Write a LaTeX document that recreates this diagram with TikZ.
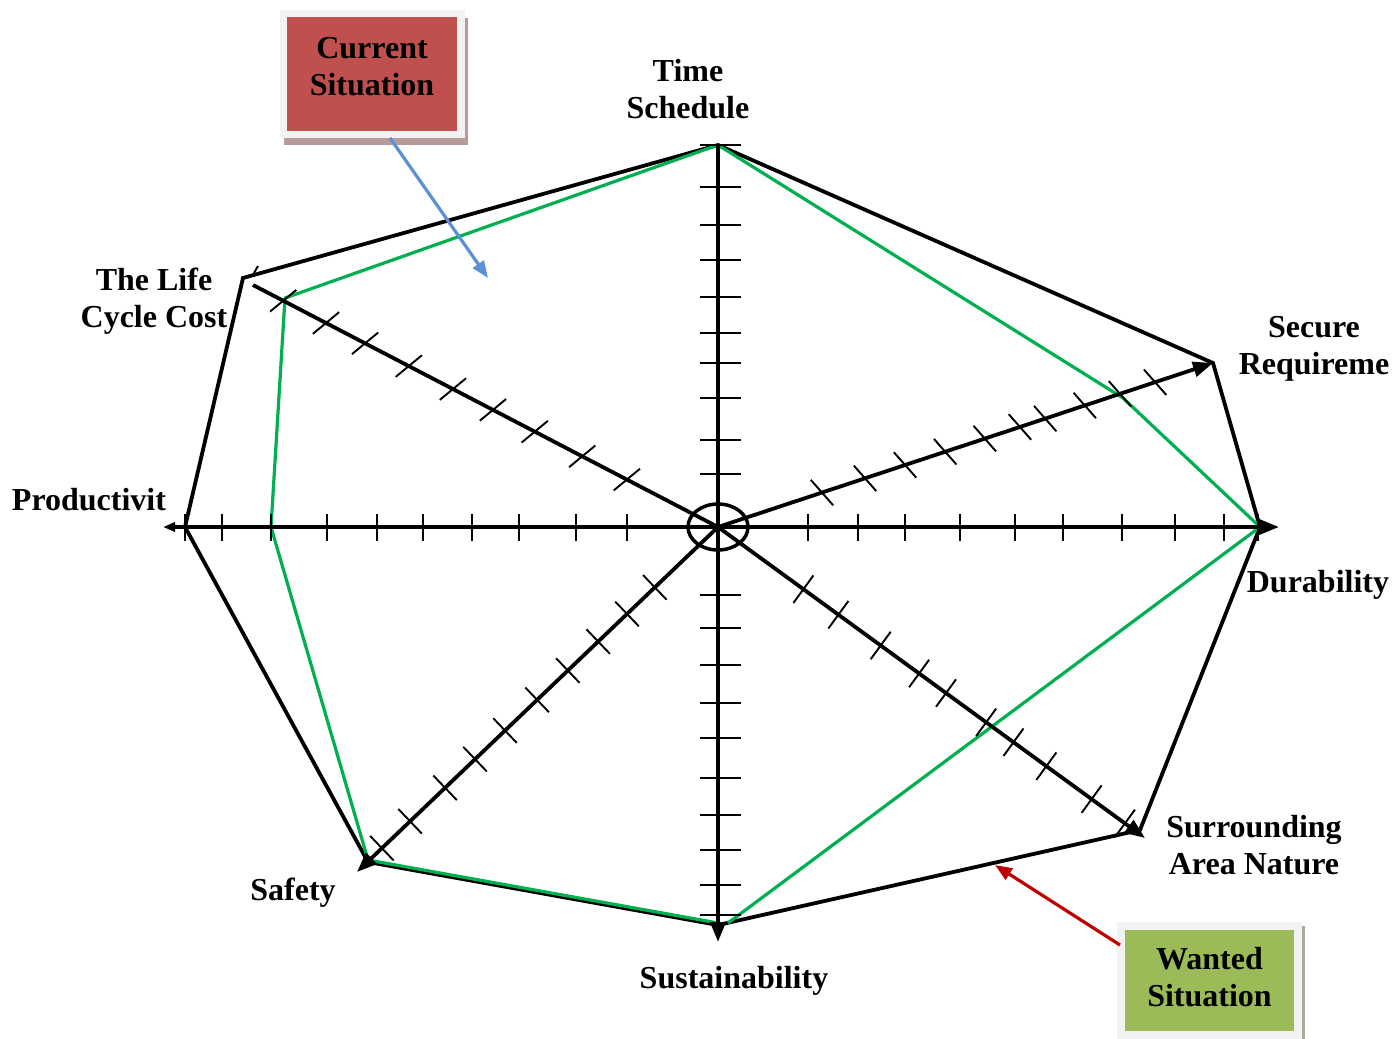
\documentclass[tikz,border=0pt]{standalone}
\usepackage{fontspec}
\setmainfont{Liberation Serif}
\usetikzlibrary{arrows.meta,calc}
\definecolor{gline}{HTML}{00B050}
\definecolor{curred}{HTML}{C0504D}
\definecolor{curshadow}{HTML}{B89A9A}
\definecolor{wantgreen}{HTML}{9BBB59}
\definecolor{wantshadow}{HTML}{A3AD98}
\definecolor{framegray}{HTML}{F2F2F2}
\definecolor{bluearr}{HTML}{5B8FD6}
\definecolor{redarr}{HTML}{C00000}
\begin{document}
\begin{tikzpicture}[x=1pt,y=-1pt,
  axisline/.style={line width=3.8pt},
  polyline/.style={line width=3.8pt,line join=miter},
  greenline/.style={draw=gline,line width=3.2pt,line join=round},
  tickline/.style={line width=1.9pt},
  bigtip/.style={-{Triangle[length=20pt,width=15pt]}},
  lbl/.style={font=\fontsize{32}{37}\selectfont\bfseries,align=center,inner sep=0pt},
  boxlbl/.style={font=\fontsize{32}{37}\selectfont\bfseries,align=center,inner sep=0pt,text=black}]
\useasboundingbox (0,0) rectangle (1393,1039);

% key coordinates
\coordinate (O) at (718,527);
\coordinate (T) at (718,145);
\coordinate (B) at (718,942);
\coordinate (L) at (163,527);
\coordinate (R) at (1279,527);
\coordinate (SR) at (1213,363);
\coordinate (LC) at (253,285);
\coordinate (SA) at (1145,838);
\coordinate (SF) at (357,872);

% polygons
\draw[polyline] (718,145) -- (1213,363) -- (1260,527) -- (1140,830) -- (718,925)
  -- (368,862) -- (185,527) -- (243,278) -- cycle;
\draw[greenline] (718,145) -- (1123,398) -- (1260,527) -- (728,923);
\draw[greenline] (718,923) -- (368,860) -- (271,527) -- (285,298) -- (718,145);

% axes
\draw[axisline] (T) -- (O);
\draw[axisline,bigtip] (O) -- (B);
\draw[axisline,-{Triangle[length=12pt,width=9pt]}] (O) -- (L);
\draw[axisline,bigtip] (O) -- (R);
\draw[axisline,bigtip] (O) -- (SR);
\draw[axisline] (O) -- (LC);
\draw[axisline,bigtip] (O) -- (SA);
\draw[axisline,bigtip] (O) -- (SF);
\draw[tickline] (254,273) -- (258,266);

% center ellipse
\draw[line width=3.5pt] (O) ellipse [x radius=30, y radius=23];

% vertical ticks
\foreach \y in {145,187,225,260,297,333,363,398,440,474,595,628,665,703,738,778,815,850,885,915}
  \draw[tickline] (700,\y) -- (741,\y);
% horizontal ticks
\foreach \x in {185,222,271,327,377,423,472,519,576,627,808,858,905,960,1015,1063,1122,1175,1224,1258}
  \draw[tickline] (\x,514) -- (\x,541);

% diagonal ticks
\foreach \f in {0.196,0.292,0.394,0.484,0.570,0.665,0.759,0.843,0.935}{
  \coordinate (t) at ($(O)!\f!(LC)$);
  \draw[tickline] ($(t)!17pt!67:(LC)$) -- ($(t)!17pt!-113:(LC)$);}
\foreach \f in {0.210,0.297,0.378,0.459,0.539,0.610,0.661,0.741,0.812,0.883}{
  \coordinate (t) at ($(O)!\f!(SR)$);
  \draw[tickline] ($(t)!17pt!113:(SR)$) -- ($(t)!17pt!-67:(SR)$);}
\foreach \f in {0.200,0.282,0.381,0.471,0.534,0.628,0.692,0.769,0.875,0.953}{
  \coordinate (t) at ($(O)!\f!(SA)$);
  \draw[tickline] ($(t)!17pt!90:(SA)$) -- ($(t)!17pt!-90:(SA)$);}
\foreach \f in {0.175,0.252,0.332,0.416,0.501,0.590,0.673,0.756,0.853,0.931}{
  \coordinate (t) at ($(O)!\f!(SF)$);
  \draw[tickline] ($(t)!17pt!90:(SF)$) -- ($(t)!17pt!-90:(SF)$);}

% axis labels
\node[lbl] (lt) at (688,89) {Time\\Schedule};
\node[lbl] (lsr) at (1314,349) {Secure\\Requireme};
\node[lbl] (llc) at (154,301) {The Life\\Cycle Cost};
\node[lbl] (lp) at (89,500) {Productivit};
\node[lbl] (ld) at (1318,585) {Durability};
\node[lbl] (lsa) at (1254,845) {Surrounding\\Area Nature};
\node[lbl] (lsf) at (293,893) {Safety};
\node[lbl] (lsu) at (734,981) {Sustainability};

% Current situation box
\fill[curshadow] (284,18) rectangle (468,145);
\fill[framegray] (280,10) rectangle (465,138);
\fill[curred] (287,17) rectangle (457,131);
\node[boxlbl] (cur) at (372,67) {Current\\Situation};
\coordinate (curtail) at (390,138);
\coordinate (curhead) at (488,278);
\draw[bluearr,line width=3.2pt,-{Triangle[length=17pt,width=13pt]}] (curtail) -- (curhead);

% Wanted situation box
\fill[wantshadow] (1121,926) rectangle (1305,1039);
\fill[framegray] (1117,922) rectangle (1302,1039);
\fill[wantgreen] (1125,930) rectangle (1294,1031);
\node[boxlbl] (want) at (1209.5,977.5) {Wanted\\Situation};
\coordinate (wanttail) at (1120,945);
\coordinate (wanthead) at (995,865);
\draw[redarr,line width=3.2pt,-{Triangle[length=17pt,width=13pt]}] (wanttail) -- (wanthead);
\end{tikzpicture}
\end{document}
